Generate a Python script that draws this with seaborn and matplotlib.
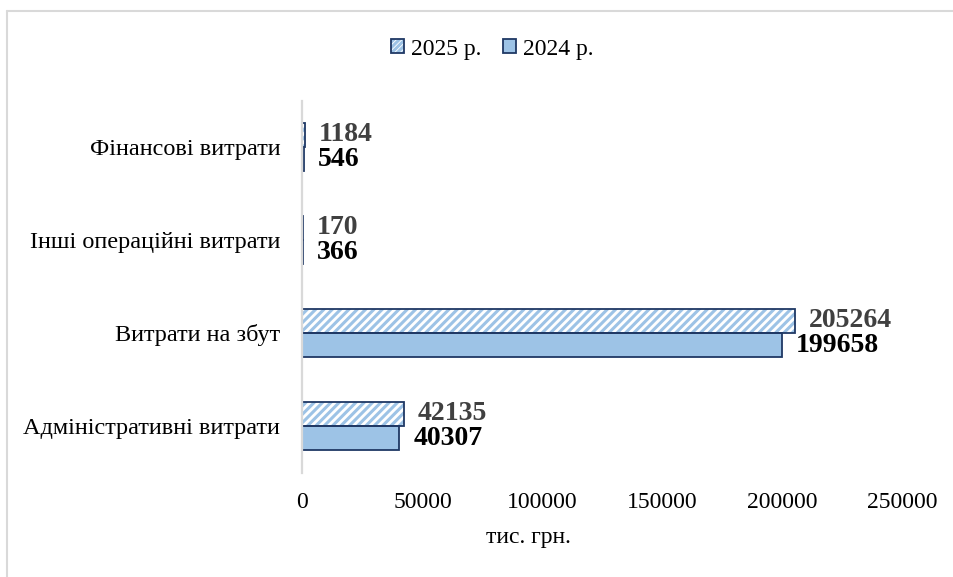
import matplotlib
matplotlib.use("Agg")
import matplotlib.pyplot as plt
from matplotlib.patches import Rectangle, Patch
from matplotlib.lines import Line2D
from matplotlib.legend_handler import HandlerTuple
import seaborn as sns
import pandas as pd

# ---- data ----
categories = ["Фінансові витрати", "Інші операційні витрати",
              "Витрати на збут", "Адміністративні витрати"]
values_2025 = [1184, 170, 205264, 42135]
values_2024 = [546, 366, 199658, 40307]
series_names = ["2025 р.", "2024 р."]
xtick_values = [0, 50000, 100000, 150000, 200000, 250000]
xtick_labels = ["0", "50000", "100000", "150000", "200000", "250000"]
x_label = "тис. грн."

# ---- style ----
sns.set_style("white")
plt.rcParams["font.family"] = ["Liberation Serif", "DejaVu Serif"]
plt.rcParams["text.color"] = "black"
plt.rcParams["hatch.linewidth"] = 2.2

FILL = "#9DC3E6"
NAVY = "#1F3864"
GRID = "#D9D9D9"
HATCH = "////"

df = pd.DataFrame({
    "category": categories * 2,
    "value": values_2025 + values_2024,
    "year": [series_names[0]] * len(categories) + [series_names[1]] * len(categories),
})

fig = plt.figure(figsize=(9.54, 5.77), dpi=100)
ax = fig.add_axes([302.5 / 954, 1 - 472.5 / 577, 600 / 954, 372 / 577])

sns.barplot(data=df, y="category", x="value", hue="year", hue_order=series_names,
            order=categories, orient="h", width=0.52, palette=[FILL, FILL],
            saturation=1, edgecolor=NAVY, linewidth=1.3, legend=False, ax=ax)

# hatched 2025 bars: light blue hatch on white, navy outline overlay
for p in ax.containers[0]:
    p.set_facecolor("white")
    p.set_edgecolor(FILL)
    p.set_hatch(HATCH)
    p.set_linewidth(0)
    ax.add_patch(Rectangle(p.get_xy(), p.get_width(), p.get_height(),
                           fill=False, edgecolor=NAVY, linewidth=1.3, zorder=p.get_zorder() + 0.1))

ax.bar_label(ax.containers[0], labels=[str(v) for v in values_2025], padding=10,
             fontsize=20, fontweight="bold", color="#404040")
ax.bar_label(ax.containers[1], labels=[str(v) for v in values_2024], padding=10,
             fontsize=20, fontweight="bold", color="black")

ax.set_xlim(0, 250000)
ax.set_xticks(xtick_values)
ax.set_xticklabels(xtick_labels)
ax.set_xlabel("")
ax.set_ylabel("")
ax.tick_params(axis="x", length=0, pad=14, labelsize=17, colors="black")
ax.tick_params(axis="y", length=0, pad=16, labelsize=17.5, colors="black")
for s in ["top", "right", "bottom"]:
    ax.spines[s].set_visible(False)
ax.spines["left"].set_color(GRID)
ax.spines["left"].set_linewidth(1.6)
ax.grid(False)

fig.text(528 / 954, 1 - 537 / 577, x_label, ha="center", va="center", fontsize=17,
         color="black")

# legend
h2025 = (Patch(facecolor="white", edgecolor=FILL, hatch="//////", linewidth=0),
         Patch(facecolor="none", edgecolor=NAVY, linewidth=1.3))
h2024 = Patch(facecolor=FILL, edgecolor=NAVY, linewidth=1.3)
fig.legend([h2025, h2024], series_names, loc="center",
           bbox_to_anchor=(492.5 / 954, 1 - 49 / 577), ncol=2, frameon=False,
           fontsize=17, handlelength=0.55, handleheight=0.55, handletextpad=0.3,
           columnspacing=0.9, handler_map={tuple: HandlerTuple(ndivide=1)},
           labelcolor="black")

# figure border (top and left)
fig.add_artist(Line2D([7.5 / 954, 1.0], [1 - 10.5 / 577, 1 - 10.5 / 577],
                      transform=fig.transFigure, color=GRID, linewidth=1.5))
fig.add_artist(Line2D([7.5 / 954, 7.5 / 954], [0.0, 1 - 10.5 / 577],
                      transform=fig.transFigure, color=GRID, linewidth=1.5))

fig.savefig("out.png", dpi=100)
